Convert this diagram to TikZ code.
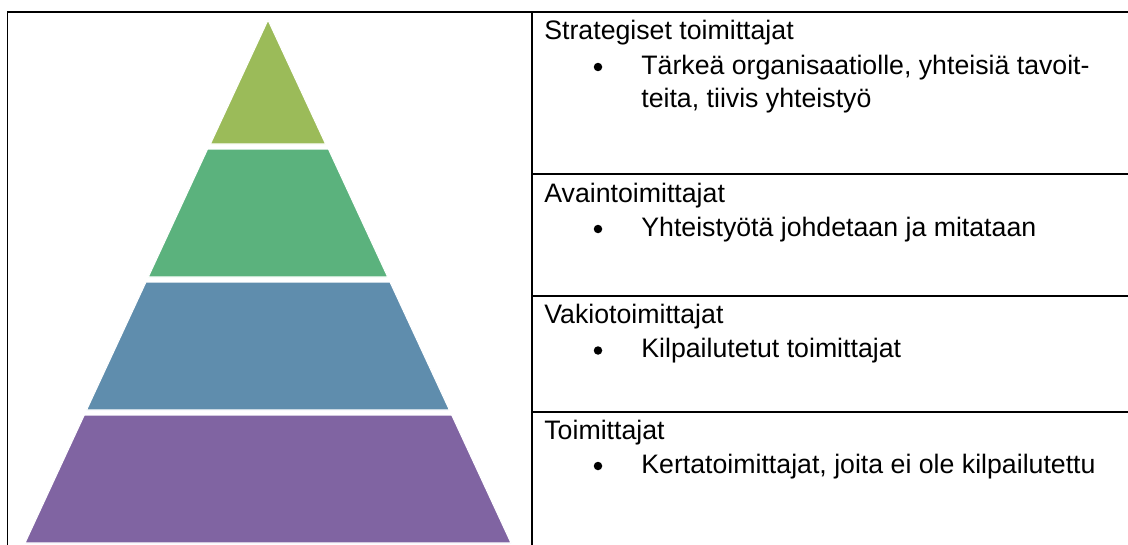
\documentclass[tikz,border=0pt]{standalone}
\usepackage{fontspec}
\setmainfont{Liberation Sans}
\usepackage{tikz}
\usetikzlibrary{positioning}
\definecolor{oliveleaf}{RGB}{155,187,89}
\definecolor{seagreen}{RGB}{91,178,125}
\definecolor{steelblue}{RGB}{95,141,173}
\definecolor{mutedpurple}{RGB}{128,100,162}
\tikzstyle{level}=[draw=white, line width=0.6pt]
\tikzstyle{rule}=[line width=0.04cm, black]
\tikzstyle{heading}=[anchor=base west, inner sep=0pt, font=\fontsize{15.2}{19}\selectfont]
\tikzstyle{item}=[anchor=base west, inner sep=0pt, align=left, font=\fontsize{15.2}{19}\selectfont]
\tikzstyle{dot}=[circle, fill=black, inner sep=0pt, minimum size=0.17cm]

\begin{document}
\begin{tikzpicture}[x=0.02cm, y=-0.02cm]
		\useasboundingbox (0,0) rectangle (1128,544);
		
		% pyramid
		\fill[level, fill=oliveleaf] (268,20) -- (325.6,144) -- (210.4,144) -- cycle;
		\fill[level, fill=seagreen] (207.6,149) -- (328.4,149) -- (387.7,277) -- (148.3,277) -- cycle;
		\fill[level, fill=steelblue] (146,282) -- (390,282) -- (449.4,410) -- (86.6,410) -- cycle;
		\fill[level, fill=mutedpurple] (84.3,415) -- (451.7,415) -- (511,543) -- (25,543) -- cycle;
		
		% table
		\draw[rule] (7.5,550) -- (7.5,12.5) -- (1135,12.5);
		\draw[rule] (531.5,12.5) -- (531.5,550);
		\draw[rule] (531.5,174) -- (1135,174);
		\draw[rule] (531.5,296) -- (1135,296);
		\draw[rule] (531.5,412) -- (1135,412);
		
		\node(head1)[heading] at (544,40) {Strategiset toimittajat};
		\node(dot1)[dot] at (598,67) {};
		\node(item1)[item] at (641,107.5) {Tärkeä organisaatiolle, yhteisiä tavoit-\\teita, tiivis yhteistyö};
		
		\node(head2)[heading] at (544,202) {Avaintoimittajat};
		\node(dot2)[dot] at (598,229) {};
		\node(item2)[item] at (641,236) {Yhteistyötä johdetaan ja mitataan};
		
		\node(head3)[heading] at (544,323.5) {Vakiotoimittajat};
		\node(dot3)[dot] at (598,350.5) {};
		\node(item3)[item] at (641,357.5) {Kilpailutetut toimittajat};
		
		\node(head4)[heading] at (544,439) {Toimittajat};
		\node(dot4)[dot] at (598,466) {};
		\node(item4)[item] at (641,473) {Kertatoimittajat, joita ei ole kilpailutettu};
	\end{tikzpicture}
\end{document}
